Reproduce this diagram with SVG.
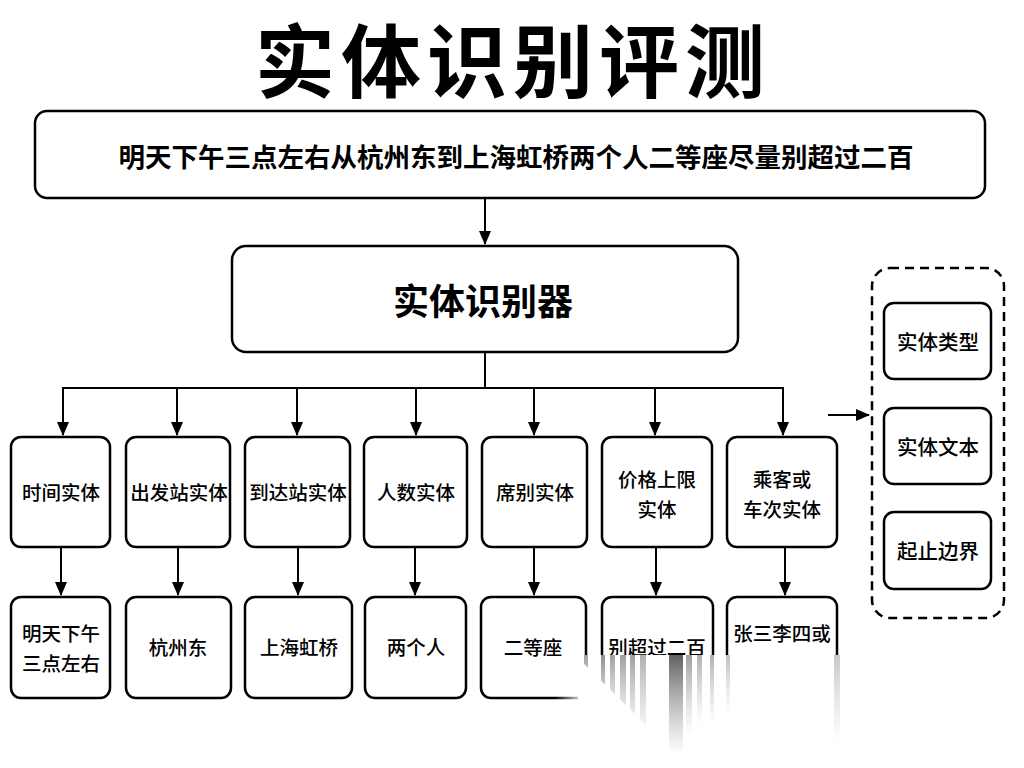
<svg xmlns="http://www.w3.org/2000/svg" width="1024" height="768" viewBox="0 0 1024 768">
<defs>
<style>
.box{fill:#fff;stroke:#000;stroke-width:2.5}
.dash{fill:none;stroke:#000;stroke-width:2.5;stroke-dasharray:9 6}
.t{font-family:"Noto Sans CJK SC","Noto Sans",sans-serif;fill:#000;text-anchor:middle;dominant-baseline:central}
.lbl{font-size:19.5px;font-weight:500}
.edge{fill:none;stroke:#000;stroke-width:2}
</style>
<marker id="ah" markerUnits="userSpaceOnUse" markerWidth="14" markerHeight="14" viewBox="0 0 14 14" refX="13" refY="7" orient="auto">
<path d="M0,1 L14,7 L0,13 Z" fill="#000"/>
</marker>
<linearGradient id="streak" x1="0" y1="0" x2="0" y2="1">
<stop offset="0" stop-color="#444" stop-opacity="0.85"/>
<stop offset="1" stop-color="#888" stop-opacity="0"/>
</linearGradient>
<linearGradient id="hfade" x1="0" y1="0" x2="1" y2="0">
<stop offset="0" stop-color="#fff" stop-opacity="0"/>
<stop offset="1" stop-color="#fff" stop-opacity="1"/>
</linearGradient>
<clipPath id="tri"><polygon points="575,655 1024,655 1024,768 690,768"/></clipPath>
</defs>
<rect width="1024" height="768" fill="#fff"/>

<g id="title"><text class="t" x="513" y="56" font-size="80" font-weight="700" letter-spacing="6">实体识别评测</text></g>

<g id="query"><rect class="box" x="35" y="111" width="950" height="87" rx="12"/>
<text class="t" x="516" y="155" font-size="26.5" font-weight="700">明天下午三点左右从杭州东到上海虹桥两个人二等座尽量别超过二百</text></g>

<g id="recognizer"><rect class="box" x="232" y="246" width="506" height="106" rx="14"/>
<text class="t" x="483" y="299" font-size="36" font-weight="700">实体识别器</text></g>

<g id="connectors">
<line class="edge" x1="485" y1="198" x2="485" y2="244" marker-end="url(#ah)"/>
<polyline class="edge" points="485,352 485,388"/>
<line class="edge" x1="62" y1="388" x2="784" y2="388"/>
<line class="edge" x1="63" y1="388" x2="63" y2="435" marker-end="url(#ah)"/>
<line class="edge" x1="177" y1="388" x2="177" y2="435" marker-end="url(#ah)"/>
<line class="edge" x1="297" y1="388" x2="297" y2="435" marker-end="url(#ah)"/>
<line class="edge" x1="416" y1="388" x2="416" y2="435" marker-end="url(#ah)"/>
<line class="edge" x1="534" y1="388" x2="534" y2="435" marker-end="url(#ah)"/>
<line class="edge" x1="655" y1="388" x2="655" y2="435" marker-end="url(#ah)"/>
<line class="edge" x1="783" y1="388" x2="783" y2="435" marker-end="url(#ah)"/>
<line class="edge" x1="61" y1="547" x2="61" y2="595" marker-end="url(#ah)"/>
<line class="edge" x1="178" y1="547" x2="178" y2="595" marker-end="url(#ah)"/>
<line class="edge" x1="298" y1="547" x2="298" y2="595" marker-end="url(#ah)"/>
<line class="edge" x1="415" y1="547" x2="415" y2="595" marker-end="url(#ah)"/>
<line class="edge" x1="534" y1="547" x2="534" y2="595" marker-end="url(#ah)"/>
<line class="edge" x1="656" y1="547" x2="656" y2="595" marker-end="url(#ah)"/>
<line class="edge" x1="785" y1="547" x2="785" y2="595" marker-end="url(#ah)"/>
<line class="edge" x1="828" y1="415" x2="869" y2="415" marker-end="url(#ah)"/>
</g>

<g id="e1"><rect class="box" x="11" y="437" width="99" height="110" rx="10"/><text class="t lbl" x="61" y="491">时间实体</text></g>
<g id="e2"><rect class="box" x="126" y="437" width="104" height="110" rx="10"/><text class="t lbl" x="179" y="491">出发站实体</text></g>
<g id="e3"><rect class="box" x="245" y="437" width="105" height="110" rx="10"/><text class="t lbl" x="298" y="491">到达站实体</text></g>
<g id="e4"><rect class="box" x="364" y="437" width="103" height="110" rx="10"/><text class="t lbl" x="416" y="491">人数实体</text></g>
<g id="e5"><rect class="box" x="482" y="437" width="105" height="110" rx="10"/><text class="t lbl" x="535" y="491">席别实体</text></g>
<g id="e6"><rect class="box" x="602" y="437" width="110" height="110" rx="10"/><text class="t lbl" x="657" y="478">价格上限</text><text class="t lbl" x="657" y="508">实体</text></g>
<g id="e7"><rect class="box" x="727" y="437" width="110" height="110" rx="10"/><text class="t lbl" x="782" y="478">乘客或</text><text class="t lbl" x="782" y="508">车次实体</text></g>

<g id="v1"><rect class="box" x="11" y="597" width="99" height="101" rx="10"/><text class="t lbl" x="61" y="632">明天下午</text><text class="t lbl" x="61" y="662">三点左右</text></g>
<g id="v2"><rect class="box" x="126" y="597" width="105" height="101" rx="10"/><text class="t lbl" x="178" y="646">杭州东</text></g>
<g id="v3"><rect class="box" x="245" y="597" width="107" height="101" rx="10"/><text class="t lbl" x="299" y="646">上海虹桥</text></g>
<g id="v4"><rect class="box" x="365" y="597" width="101" height="101" rx="10"/><text class="t lbl" x="416" y="646">两个人</text></g>
<g id="v5"><rect class="box" x="481" y="597" width="105" height="101" rx="10"/><text class="t lbl" x="533" y="646">二等座</text></g>
<g id="v6"><rect class="box" x="602" y="597" width="111" height="101" rx="10"/><text class="t lbl" x="657" y="646">别超过二百</text></g>
<g id="v7"><rect class="box" x="727" y="597" width="110" height="101" rx="10"/><text class="t lbl" x="782" y="632">张三李四或</text></g>

<g id="attributes">
<rect class="dash" x="872" y="268" width="132" height="350" rx="18"/>
<g id="a1"><rect class="box" x="884" y="303" width="107" height="76" rx="10"/><text class="t" x="938" y="341" font-size="20.5" font-weight="500">实体类型</text></g>
<g id="a2"><rect class="box" x="884" y="408" width="107" height="76" rx="10"/><text class="t" x="938" y="446" font-size="20.5" font-weight="500">实体文本</text></g>
<g id="a3"><rect class="box" x="884" y="512" width="107" height="77" rx="10"/><text class="t" x="938" y="550" font-size="20.5" font-weight="500">起止边界</text></g>
</g>

<g id="fade-overlay">
<rect x="578" y="655" width="446" height="113" fill="#fff"/>
<rect x="555" y="690" width="30" height="16" fill="url(#hfade)"/>
<g clip-path="url(#tri)">
<rect x="584" y="655" width="4" height="60" fill="url(#streak)" opacity="0.6"/>
<rect x="601" y="655" width="4" height="75" fill="url(#streak)" opacity="0.7"/>
<rect x="610" y="655" width="5" height="70" fill="url(#streak)" opacity="0.6"/>
<rect x="620" y="655" width="6" height="80" fill="url(#streak)" opacity="0.6"/>
<rect x="630" y="655" width="5" height="85" fill="url(#streak)" opacity="0.6"/>
<rect x="640" y="655" width="6" height="90" fill="url(#streak)" opacity="0.5"/>
<rect x="669" y="655" width="14" height="100" fill="url(#streak)" opacity="1"/>
<rect x="686" y="655" width="6" height="80" fill="url(#streak)" opacity="0.6"/>
<rect x="697" y="655" width="5" height="70" fill="url(#streak)" opacity="0.5"/>
<rect x="710" y="655" width="4" height="70" fill="url(#streak)" opacity="0.5"/>
<rect x="726" y="655" width="4" height="60" fill="url(#streak)" opacity="0.4"/>
<rect x="834" y="655" width="6" height="90" fill="url(#streak)" opacity="0.35"/>
</g>
</g>
</svg>
